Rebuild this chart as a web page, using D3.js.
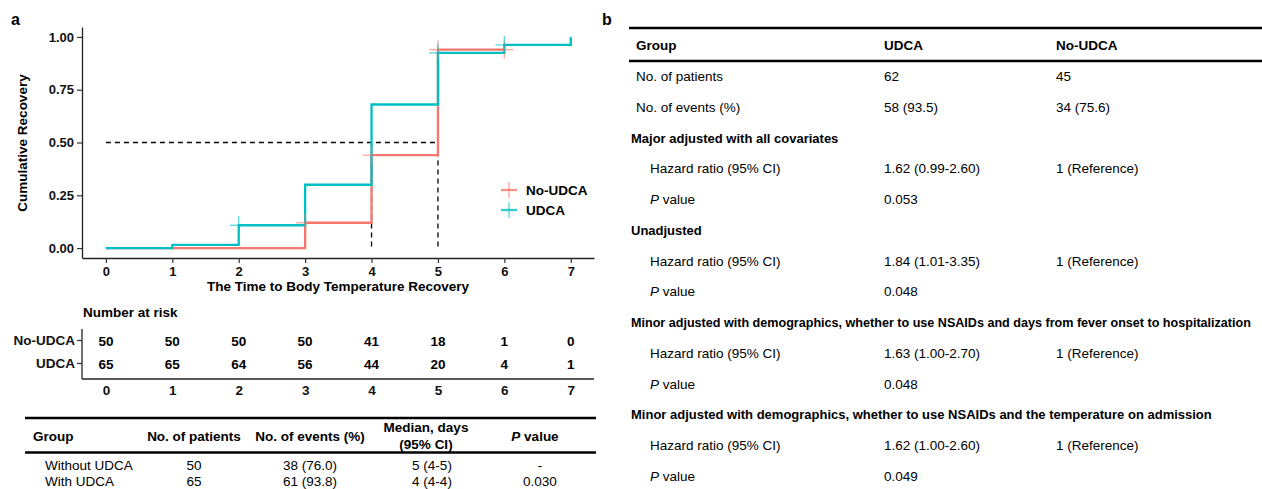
<!DOCTYPE html>
<html>
<head>
<meta charset="utf-8">
<script src="https://cdn.jsdelivr.net/npm/d3@7"></script>
<style>
  body { margin: 0; background: #fff; }
  svg text { font-family: "Liberation Sans", Arial, sans-serif; }
</style>
</head>
<body>
<div id="chart"></div>
<script>
// KM curves (cumulative recovery), step values at each day
var days = [0, 1, 2, 3, 4, 5, 6, 7]
var noUdcaDays = [0, 1, 2, 3, 4, 5, 6]
var noUdcaCum = [0, 0, 0, 0.12, 0.44, 0.94, 0.94]
var udcaCum = [0, 0.015, 0.108, 0.30, 0.68, 0.924, 0.962, 1.0]
// censor marks [day, value]
var noUdcaCensor = [[3, 0.12], [4, 0.44], [5, 0.94], [6, 0.94]]
var udcaCensor = [[2, 0.108], [5, 0.924], [6, 0.962]]
var yTicks = [0, 0.25, 0.5, 0.75, 1]
var medians = [4, 5]

// number at risk
var groups = ["No-UDCA", "UDCA"]
var riskNoUdca = [50, 50, 50, 50, 41, 18, 1, 0]
var riskUdca = [65, 65, 64, 56, 44, 20, 4, 1]

// summary table under panel a
var sumHeader = ["Group", "No. of patients", "No. of events (%)", "Median, days", "P value"]
var sumGroups = ["Without UDCA", "With UDCA"]
var sumPatients = ["50", "65"]
var sumEvents = ["38 (76.0)", "61 (93.8)"]
var sumMedian = ["5 (4-5)", "4 (4-4)"]
var sumP = ["-", "0.030"]

// panel b table
var bHeader = ["Group", "UDCA", "No-UDCA"]
var bRows = [
  ["row", "No. of patients", "62", "45"],
  ["row", "No. of events (%)", "58 (93.5)", "34 (75.6)"],
  ["head", "Major adjusted with all covariates"],
  ["sub", "Hazard ratio (95% CI)", "1.62 (0.99-2.60)", "1 (Reference)"],
  ["p", "value", "0.053"],
  ["head", "Unadjusted"],
  ["sub", "Hazard ratio (95% CI)", "1.84 (1.01-3.35)", "1 (Reference)"],
  ["p", "value", "0.048"],
  ["head", "Minor adjusted with demographics, whether to use NSAIDs and days from fever onset to hospitalization"],
  ["sub", "Hazard ratio (95% CI)", "1.63 (1.00-2.70)", "1 (Reference)"],
  ["p", "value", "0.048"],
  ["head", "Minor adjusted with demographics, whether to use NSAIDs and the temperature on admission"],
  ["sub", "Hazard ratio (95% CI)", "1.62 (1.00-2.60)", "1 (Reference)"],
  ["p", "value", "0.049"]
]

var red = "#F8766D", teal = "#00BFC4"

var svg = d3.select("#chart").append("svg")
    .attr("width", 1262)
    .attr("height", 489)

// ---------- panel a ----------
svg.append("text").attr("x", 11).attr("y", 25)
    .style("font-size", "16px").style("font-weight", "bold").text("a")

var x = d3.scaleLinear().domain([-0.36, 7.35]).range([82, 594])
var y = d3.scaleLinear().domain([-0.047, 1.047]).range([258, 27])

var xAxis = svg.append("g").attr("transform", "translate(0,258)")
    .call(d3.axisBottom(x).tickValues(days).tickSize(5).tickSizeOuter(0))
var yAxis = svg.append("g").attr("transform", "translate(82,0)")
    .call(d3.axisLeft(y).tickValues(yTicks).tickFormat(d3.format(".2f")).tickSize(5).tickSizeOuter(0))

;[xAxis, yAxis].forEach(function (g) {
  g.select(".domain").attr("stroke", "#222").attr("stroke-width", 1.3)
  g.selectAll(".tick line").attr("stroke", "#333").attr("stroke-width", 1.2)
  g.selectAll(".tick text").attr("fill", "#111")
      .style("font-size", "13px").style("font-weight", "bold")
})
xAxis.selectAll(".tick text").attr("y", 9)
yAxis.selectAll(".tick text").attr("x", -8)

svg.append("text")
    .attr("transform", "translate(27,143) rotate(-90)")
    .attr("text-anchor", "middle")
    .style("font-size", "13.5px").style("font-weight", "bold")
    .text("Cumulative Recovery")
svg.append("text").attr("x", 338).attr("y", 291)
    .attr("text-anchor", "middle")
    .style("font-size", "13.5px").style("font-weight", "bold")
    .text("The Time to Body Temperature Recovery")

// median dashed lines
svg.append("line")
    .attr("x1", x(0)).attr("x2", x(d3.max(medians)))
    .attr("y1", y(0.5)).attr("y2", y(0.5))
    .attr("stroke", "#000").attr("stroke-width", 1.3).attr("stroke-dasharray", "5,4")
svg.selectAll(".med").data(medians).enter().append("line")
    .attr("x1", function (d) { return x(d) }).attr("x2", function (d) { return x(d) })
    .attr("y1", y(0.5)).attr("y2", y(0))
    .attr("stroke", "#000").attr("stroke-width", 1.3).attr("stroke-dasharray", "5,4")

var step = d3.line()
    .x(function (d) { return x(d[0]) })
    .y(function (d) { return y(d[1]) })
    .curve(d3.curveStepAfter)

var noData = noUdcaDays.map(function (d, i) { return [d, noUdcaCum[i]] })
var udData = days.map(function (d, i) { return [d, udcaCum[i]] })

svg.append("path").datum(noData).attr("d", step)
    .attr("fill", "none").attr("stroke", red).attr("stroke-width", 2.3)
svg.append("path").datum(udData).attr("d", step)
    .attr("fill", "none").attr("stroke", teal).attr("stroke-width", 2.3)

function censor(data, color) {
  var g = svg.append("g").attr("stroke", color).attr("stroke-width", 1.4).attr("opacity", 0.6)
  data.forEach(function (d) {
    g.append("line").attr("x1", x(d[0]) - 9).attr("x2", x(d[0]) + 9)
        .attr("y1", y(d[1])).attr("y2", y(d[1]))
    g.append("line").attr("x1", x(d[0])).attr("x2", x(d[0]))
        .attr("y1", y(d[1]) - 9).attr("y2", y(d[1]) + 9)
  })
}
censor(noUdcaCensor, red)
censor(udcaCensor, teal)

// legend
var legend = svg.append("g").attr("transform", "translate(509,190)")
groups.forEach(function (gname, i) {
  var c = i == 0 ? red : teal
  var lg = legend.append("g").attr("transform", "translate(0," + (i * 20) + ")")
  lg.append("line").attr("x1", -8).attr("x2", 8).attr("stroke", c).attr("stroke-width", 2.3).attr("opacity", 0.8)
  lg.append("line").attr("y1", -8).attr("y2", 8).attr("stroke", c).attr("stroke-width", 1.4).attr("opacity", 0.6)
  lg.append("text").attr("x", 17).attr("y", 5)
      .style("font-size", "13.5px").style("font-weight", "bold").text(gname)
})

// ---------- number at risk ----------
svg.append("text").attr("x", 83).attr("y", 317)
    .style("font-size", "13.5px").style("font-weight", "bold").text("Number at risk")

var yr = d3.scaleBand().domain(groups).range([329, 375]).padding(0)
var riskX = svg.append("g").attr("transform", "translate(0,379)")
    .call(d3.axisBottom(x).tickValues(days).tickSize(0).tickSizeOuter(0))
var riskY = svg.append("g").attr("transform", "translate(82,0)")
    .call(d3.axisLeft(yr).tickSize(5).tickSizeOuter(0))
svg.append("line").attr("x1", 82).attr("x2", 82).attr("y1", 329).attr("y2", 379)
    .attr("stroke", "#222").attr("stroke-width", 1.3)
;[riskX, riskY].forEach(function (g) {
  g.select(".domain").attr("stroke", "#222").attr("stroke-width", 1.3)
  g.selectAll(".tick line").attr("stroke", "#333").attr("stroke-width", 1.2)
  g.selectAll(".tick text").attr("fill", "#111")
      .style("font-size", "13.5px").style("font-weight", "bold")
})
riskX.select(".domain").attr("d", "M82,0H594")
riskY.select(".domain").remove()
riskX.selectAll(".tick text").attr("y", 6)
riskY.selectAll(".tick text").attr("x", -7)

;[riskNoUdca, riskUdca].forEach(function (arr, gi) {
  svg.append("g").selectAll("text").data(arr).enter().append("text")
      .attr("x", function (d, i) { return x(days[i]) })
      .attr("y", yr(groups[gi]) + yr.bandwidth() / 2 + 5)
      .attr("text-anchor", "middle")
      .style("font-size", "13.5px").style("font-weight", "bold")
      .text(function (d) { return d })
})

// ---------- summary table (panel a) ----------
var colX = [33, 194, 310, 426, 535]
svg.append("line").attr("x1", 25).attr("x2", 596).attr("y1", 418).attr("y2", 418)
    .attr("stroke", "#000").attr("stroke-width", 2.6)
svg.append("line").attr("x1", 25).attr("x2", 596).attr("y1", 452.5).attr("y2", 452.5)
    .attr("stroke", "#000").attr("stroke-width", 2.6)
sumHeader.forEach(function (h, i) {
  var t = svg.append("text").attr("x", colX[i]).attr("y", 441)
      .attr("text-anchor", i == 0 ? "start" : "middle")
      .style("font-size", "13.5px").style("font-weight", "bold")
  if (i == 3) {
    t.attr("y", 432).text(h)
    svg.append("text").attr("x", colX[i]).attr("y", 449).attr("text-anchor", "middle")
        .style("font-size", "13.5px").style("font-weight", "bold").text("(95% CI)")
  } else if (i == 4) {
    t.append("tspan").style("font-style", "italic").text("P")
    t.append("tspan").text(" value")
  } else {
    t.text(h)
  }
})
sumGroups.forEach(function (g, r) {
  var yy = 469.5 + r * 16.5
  var vals = [g, sumPatients[r], sumEvents[r], sumMedian[r], sumP[r]]
  var vx = [45, 194, 310, 432, 540]
  vals.forEach(function (v, i) {
    svg.append("text").attr("x", vx[i]).attr("y", yy)
        .attr("text-anchor", i == 0 ? "start" : "middle")
        .style("font-size", "13.5px").text(v)
  })
})

// ---------- panel b ----------
svg.append("text").attr("x", 602).attr("y", 25)
    .style("font-size", "16px").style("font-weight", "bold").text("b")
svg.append("line").attr("x1", 629).attr("x2", 1262).attr("y1", 28).attr("y2", 28)
    .attr("stroke", "#000").attr("stroke-width", 2.6)
svg.append("line").attr("x1", 629).attr("x2", 1262).attr("y1", 61).attr("y2", 61)
    .attr("stroke", "#000").attr("stroke-width", 2.6)
var bCol = [636, 884, 1056]
bHeader.forEach(function (h, i) {
  svg.append("text").attr("x", bCol[i]).attr("y", 50)
      .style("font-size", "13.5px").style("font-weight", "bold").text(h)
})
var rowY = d3.scaleLinear().domain([0, bRows.length - 1]).range([81, 481])
bRows.forEach(function (r, i) {
  var yy = rowY(i)
  if (r[0] == "head") {
    var ht = svg.append("text").attr("x", 631).attr("y", yy)
        .style("font-size", "13px").style("font-weight", "bold").text(r[1])
    // shrink the longest heading so it fits in the panel
    var len = ht.node().getComputedTextLength()
    if (len > 620) ht.style("font-size", (13 * 620 / len).toFixed(2) + "px")
  } else if (r[0] == "p") {
    var t = svg.append("text").attr("x", 650).attr("y", yy).style("font-size", "13.5px")
    t.append("tspan").style("font-style", "italic").text("P")
    t.append("tspan").text(" " + r[1])
    svg.append("text").attr("x", bCol[1]).attr("y", yy).style("font-size", "13.5px").text(r[2])
  } else {
    var lx = r[0] == "sub" ? 650 : 636
    svg.append("text").attr("x", lx).attr("y", yy).style("font-size", "13.5px").text(r[1])
    svg.append("text").attr("x", bCol[1]).attr("y", yy).style("font-size", "13.5px").text(r[2])
    svg.append("text").attr("x", bCol[2]).attr("y", yy).style("font-size", "13.5px").text(r[3])
  }
})
</script>
</body>
</html>
